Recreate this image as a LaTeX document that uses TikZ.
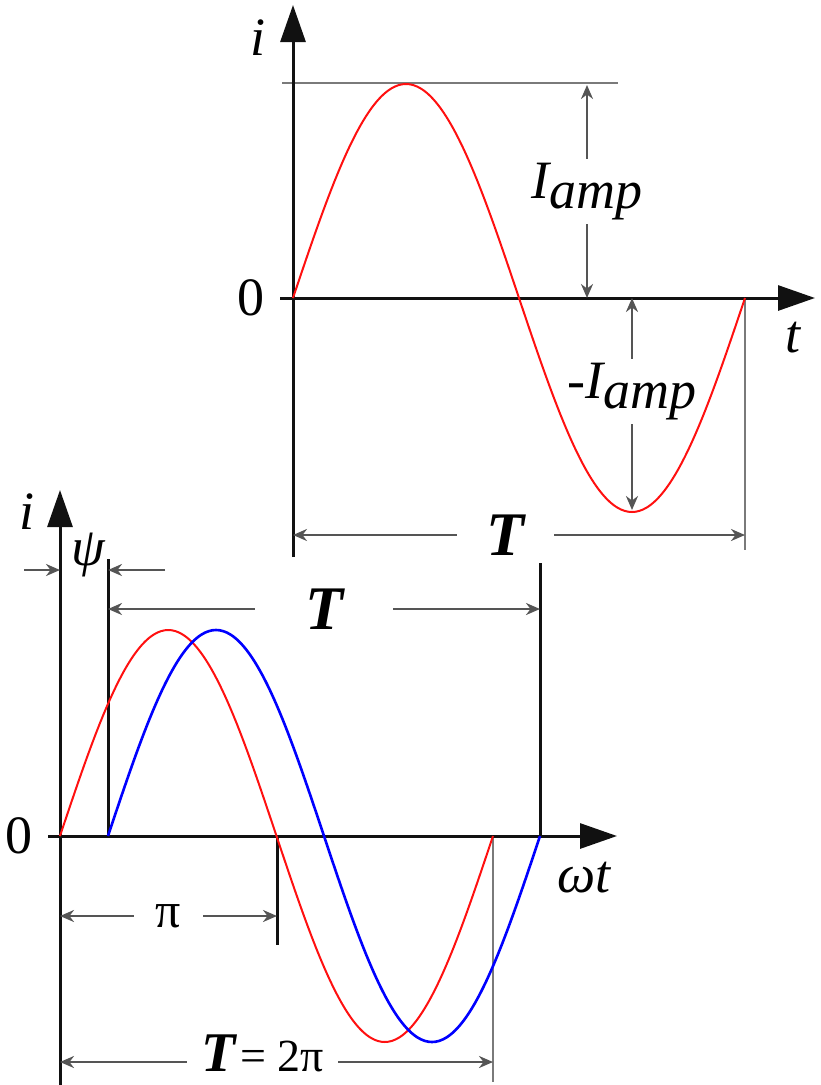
\documentclass[tikz,border=0pt]{standalone}
\usepackage{fontspec}
\setmainfont{Liberation Serif}
\usepackage{tikz}
\usetikzlibrary{arrows.meta, calc}
\definecolor{cAxis} {HTML}{111111}
\definecolor{cDim}  {HTML}{555555}
\definecolor{cGuide}{HTML}{7A7A7A}
\definecolor{cWaveA}{HTML}{FF1010}
\definecolor{cWaveB}{HTML}{0000FF}

\tikzset{
  axisline/.style={draw=cAxis, line width=3pt, -{Triangle[length=37pt,width=25pt]}},
  dimline/.style={draw=cDim, line width=2.5pt,
    {Stealth[length=14pt,width=12pt]}-{Stealth[length=14pt,width=12pt]}},
  dimhalf/.style={draw=cDim, line width=2.5pt, -{Stealth[length=14pt,width=12pt]}},
  guide/.style={draw=cGuide, line width=2.5pt},
  stem/.style={draw=cAxis, line width=3pt},
  lbl/.style={font=\fontsize{54}{60}\selectfont\itshape, inner sep=0pt},
  num/.style={font=\fontsize{54}{60}\selectfont, inner sep=0pt},
  gaplbl/.style={fill=white, inner xsep=14pt, inner ysep=4pt},
  bigT/.style={font=\fontsize{62}{66}\selectfont\bfseries\itshape},
}

\begin{document}
\begin{tikzpicture}[x=1pt, y=-1pt]
  \useasboundingbox (0,0) rectangle (820,1085);

  % upper diagram: i(t) over one period
  \coordinate (oA)   at (293,298);
  \coordinate (yAlo) at (293,557);
  \coordinate (yAhi) at (293,5);
  \coordinate (xAlo) at (280,298);
  \coordinate (xAhi) at (815,298);
  \coordinate (pkA)  at (407,83);
  \coordinate (gdA)  at (618,83);
  \coordinate (gdA0) at (282,83);
  \coordinate (endA) at (745,298);
  \coordinate (endAlo) at (745,550);

  \draw[guide] (gdA0) -- (gdA);
  \draw[guide] (endA) -- (endAlo);
  \draw[axisline] (yAlo) -- (yAhi);
  \draw[axisline] (xAlo) -- (xAhi);

  \node[lbl] (iA) at (258,38) {i};
  \node[num] (zA) at (251,298) {0};
  \node[lbl] (tA) at (793,338) {t};

  \coordinate (ampTop) at (587,85);
  \coordinate (ampBot) at (587,298);
  \coordinate (namTop) at (632,298);
  \coordinate (namBot) at (632,510);
  \draw[dimline] (ampTop) -- node[lbl, gaplbl] (amp) {I\raisebox{-10pt}{amp}} (ampBot);
  \draw[dimline] (namTop) -- node[lbl, gaplbl, pos=0.44] (namp) {-I\raisebox{-10pt}{amp}} (namBot);

  \coordinate (TAl) at (293,535);
  \coordinate (TAr) at (745,535);
  \draw[dimline] (TAl) -- node[bigT, gaplbl, inner sep=2pt, inner xsep=30pt, pos=0.47] (TA) {T} (TAr);

  \draw[cWaveA, line width=2pt] plot[domain=0:360, samples=121, smooth]
    ({293+1.25556*\x}, {298-214*sin(\x)});

  % lower diagram: phase shift psi
  \coordinate (oB)   at (60,836);
  \coordinate (yBlo) at (60,1085);
  \coordinate (yBhi) at (60,490);
  \coordinate (xBlo) at (48,836);
  \coordinate (xBhi) at (617,836);
  \coordinate (psB)  at (108,836);
  \coordinate (psBhi) at (108,559);
  \coordinate (enB)  at (540,836);
  \coordinate (enBhi) at (540,563);
  \coordinate (piB)  at (277,836);
  \coordinate (piBlo) at (277,945);
  \coordinate (twB)  at (493,836);
  \coordinate (twBlo) at (493,1082);

  \draw[stem] (psB) -- (psBhi);
  \draw[stem] (enB) -- (enBhi);
  \draw[stem] (piB) -- (piBlo);
  \draw[guide] (twB) -- (twBlo);
  \draw[axisline] (yBlo) -- (yBhi);
  \draw[axisline] (xBlo) -- (xBhi);

  \node[lbl] (iB) at (27,512) {i};
  \node[num] (zB) at (19,836) {0};
  \node[lbl] (wtB) at (584,878) {ωt};
  \node[lbl] (psi) at (88,555) {ψ};

  % psi dimension, arrows from outside
  \coordinate (psL) at (24,570);
  \coordinate (psL0) at (60,570);
  \coordinate (psR) at (165,570);
  \coordinate (psR0) at (108,570);
  \draw[dimhalf] (psL) -- (psL0);
  \draw[dimhalf] (psR) -- (psR0);

  \coordinate (TBl) at (108,609);
  \coordinate (TBr) at (540,609);
  \draw[dimline] (TBl) -- node[bigT, gaplbl, inner sep=2pt, inner xsep=50pt] (TB) {T} (TBr);

  \coordinate (piL) at (60,916);
  \coordinate (piR) at (277,916);
  \draw[dimline] (piL) -- node[num, gaplbl, font=\fontsize{50}{56}\selectfont, inner xsep=22pt] (piLbl) {π} (piR);

  \coordinate (twL) at (60,1062);
  \coordinate (twR) at (493,1062);
  \draw[dimline] (twL) -- node[gaplbl, inner xsep=14pt, inner ysep=1pt, xshift=-14pt, yshift=9pt] (twLbl)
    {{\fontsize{56}{60}\selectfont\bfseries\itshape T}\hspace{5pt}{\fontsize{46}{50}\selectfont = 2π}} (twR);

  \draw[cWaveA, line width=2pt] plot[domain=0:360, samples=121, smooth]
    ({60+1.20278*\x}, {836-206*sin(\x)});
  \draw[cWaveB, line width=2.6pt] plot[domain=0:360, samples=121, smooth]
    ({108+1.2*\x}, {836-206*sin(\x)});
\end{tikzpicture}
\end{document}
